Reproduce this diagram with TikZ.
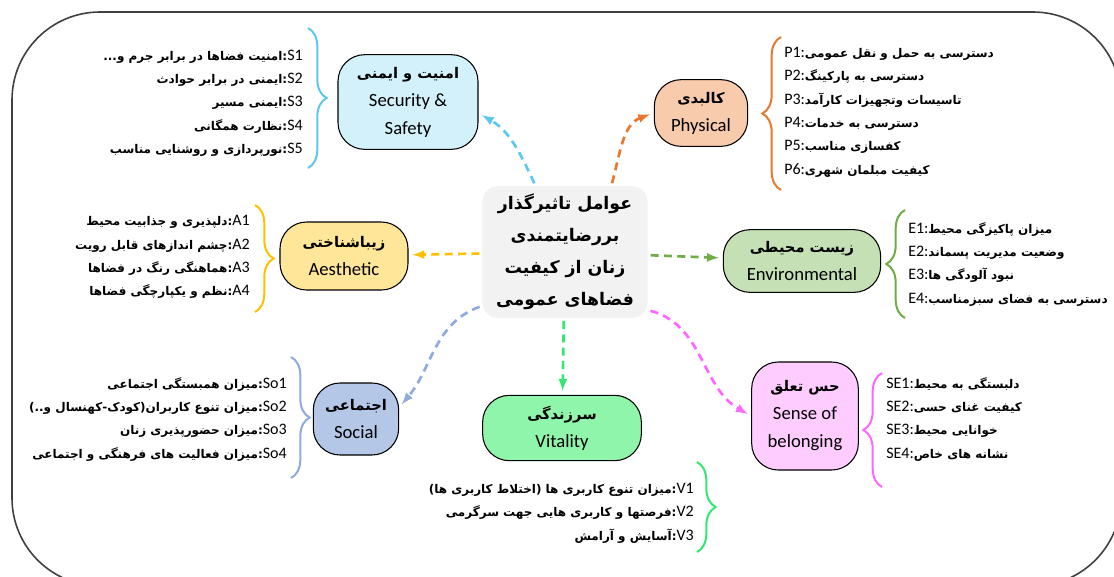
\documentclass[tikz,border=0pt]{standalone}
\usepackage{fontspec}
\setmainfont{Carlito}
\newfontfamily\farsi[Script=Arabic]{DejaVu Sans}
\TeXXeTstate=1
\usetikzlibrary{decorations.pathreplacing}
\definecolor{secfill}{HTML}{D2F1FB}
\definecolor{secline}{HTML}{5CC8F0}
\definecolor{physfill}{HTML}{F8CBAD}
\definecolor{physline}{HTML}{E8782E}
\definecolor{aesfill}{HTML}{FFE699}
\definecolor{aesline}{HTML}{FFC000}
\definecolor{envfill}{HTML}{C5E0B4}
\definecolor{envline}{HTML}{70AD47}
\definecolor{socfill}{HTML}{B4C7E7}
\definecolor{socline}{HTML}{8FAADC}
\definecolor{vitfill}{HTML}{8EF5AA}
\definecolor{vitline}{HTML}{33E872}
\definecolor{belfill}{HTML}{FFCCFF}
\definecolor{belline}{HTML}{FF66FF}
\definecolor{ctrfill}{HTML}{F2F2F2}
\newcommand{\fa}[1]{{\farsi\bfseries\beginR #1\endR}}
\newcommand{\ttl}[1]{{\farsi\bfseries\fontsize{11}{11}\selectfont\beginR #1\endR}}
\newcommand{\lab}[1]{\beginL{\normalfont\fontsize{12}{12}\selectfont #1}\endL}

\begin{document}
\begin{tikzpicture}[x=0.75pt,y=0.75pt,
    cat/.style={draw=black, line width=0.8pt, rounded corners=20pt, align=center, inner sep=2pt, font=\fontsize{14}{21}\selectfont},
    link/.style={line width=2pt, dash pattern=on 6pt off 4pt, shorten <=2pt, shorten >=3pt, -latex},
    curly/.style={line width=1.5pt, decorate, decoration={brace, amplitude=14pt}},
    items/.style={inner sep=0pt, font=\fontsize{9}{17.5}\selectfont}]
  \useasboundingbox (0,0) rectangle (1114,-576);
  \clip (0,0) rectangle (1114,-576);
  \draw[line width=1.2pt, black!75, rounded corners=66pt] (12,-12) rectangle (1121,-586);

  \node[fill=ctrfill, rounded corners=12pt, minimum width=124pt, minimum height=99pt, align=center, font=\fontsize{13}{24}\selectfont] (ctr) at (565,-252)
    {\fa{عوامل تاثیرگذار}\\\fa{بررضایتمندی}\\\fa{زنان از کیفیت}\\\fa{فضاهای عمومی}};

  \node[cat, fill=secfill, minimum width=105pt, minimum height=71pt] (sec) at (408,-102) {\ttl{امنیت و ایمنی}\\Security \&\\Safety};
  \node[cat, fill=physfill, minimum width=70pt, minimum height=50pt] (phys) at (701,-113) {\ttl{کالبدی}\\Physical};
  \node[cat, fill=aesfill, minimum width=96pt, minimum height=51pt] (aes) at (344,-256) {\ttl{زیباشناختی}\\Aesthetic};
  \node[cat, fill=envfill, minimum width=118pt, minimum height=47pt] (env) at (802,-261) {\ttl{زیست محیطی}\\Environmental};
  \node[cat, fill=socfill, minimum width=64pt, minimum height=54pt] (soc) at (356,-419) {\ttl{اجتماعی}\\Social};
  \node[cat, fill=vitfill, minimum width=119pt, minimum height=49pt] (vit) at (562,-428) {\ttl{سرزندگی}\\Vitality};
  \node[cat, fill=belfill, minimum width=80pt, minimum height=81pt] (bel) at (805,-416) {\ttl{حس تعلق}\\Sense of\\belonging};

  \draw[link, secline] (ctr.114) to[out=115, in=-30] (sec.-9);
  \draw[link, physline] (ctr.55) to[out=75, in=200] (phys.west);
  \draw[link, aesline] (ctr) -- (aes);
  \draw[link, envline] (ctr) -- (env);
  \draw[link, vitline] (ctr) -- (vit);
  \draw[link, socline] (ctr.213) to[out=200, in=50] (soc.15);
  \draw[link, belline] (ctr.-35) to[out=-15, in=150] (bel.west);

  \draw[curly, secline] (308,-28) -- (308,-168);
  \draw[curly, physline] (781,-190) -- (781,-37);
  \draw[curly, aesline] (255,-205) -- (255,-312);
  \draw[curly, envline] (905,-318) -- (905,-210);
  \draw[curly, socline] (291,-357) -- (291,-478);
  \draw[curly, vitline] (697,-462) -- (697,-552);
  \draw[curly, belline] (882,-487) -- (882,-373);

  \node[items, align=right, anchor=east] (slist) at (303,-103)
    {\fa{\lab{S1}:امنیت  فضاها در برابر جرم و...}\\\fa{\lab{S2}:ایمنی در برابر حوادث}\\\fa{\lab{S3}:ایمنی مسیر}\\\fa{\lab{S4}:نظارت همگانی}\\\fa{\lab{S5}:نورپردازی و روشنایی مناسب}};
  \node[items, align=left, anchor=west] (plist) at (784,-112)
    {\lab{P1:}\fa{دسترسی  به حمل و نقل عمومی}\\\lab{P2:}\fa{دسترسی به پارکینگ}\\\lab{P3:}\fa{تاسیسات وتجهیزات کارآمد}\\\lab{P4:}\fa{دسترسی به خدمات}\\\lab{P5:}\fa{کفسازی مناسب}\\\lab{P6:}\fa{کیفیت مبلمان شهری}};
  \node[items, align=right, anchor=east] (alist) at (250,-257)
    {\fa{\lab{A1}:دلپذیری و جذابیت محیط}\\\fa{\lab{A2}:چشم اندازهای قابل رویت}\\\fa{\lab{A3}:هماهنگی رنگ در فضاها}\\\fa{\lab{A4}:نظم و یکپارچگی فضاها}};
  \node[items, align=left, anchor=west] (elist) at (908,-264)
    {\lab{E1:}\fa{میزان پاکیزگی محیط}\\\lab{E2:}\fa{وضعیت مدیریت پسماند}\\\lab{E3:}\fa{نبود آلودگی ها}\\\lab{E4:}\fa{دسترسی به فضای سبزمناسب}};
  \node[items, align=right, anchor=east] (solist) at (287,-419)
    {\fa{\lab{So1}:میزان همبستگی اجتماعی}\\\fa{\lab{So2}:میزان تنوع کاربران(کودک-کهنسال و..)}\\\fa{\lab{So3}:میزان حضورپذیری زنان}\\\fa{\lab{So4}:میزان فعالیت های فرهنگی و اجتماعی}};
  \node[items, align=right, anchor=east] (vlist) at (694,-513)
    {\fa{\lab{V1}:میزان تنوع کاربری ها (اختلاط کاربری ها)}\\\fa{\lab{V2}:فرصتها و کاربری هایی جهت سرگرمی}\\\fa{\lab{V3}:آسایش و آرامش}};
  \node[items, align=left, anchor=west] (selist) at (886,-419)
    {\lab{SE1:}\fa{دلبستگی به محیط}\\\lab{SE2:}\fa{کیفیت غنای حسی}\\\lab{SE3:}\fa{خوانایی  محیط}\\\lab{SE4:}\fa{نشانه های خاص}};
\end{tikzpicture}
\end{document}
